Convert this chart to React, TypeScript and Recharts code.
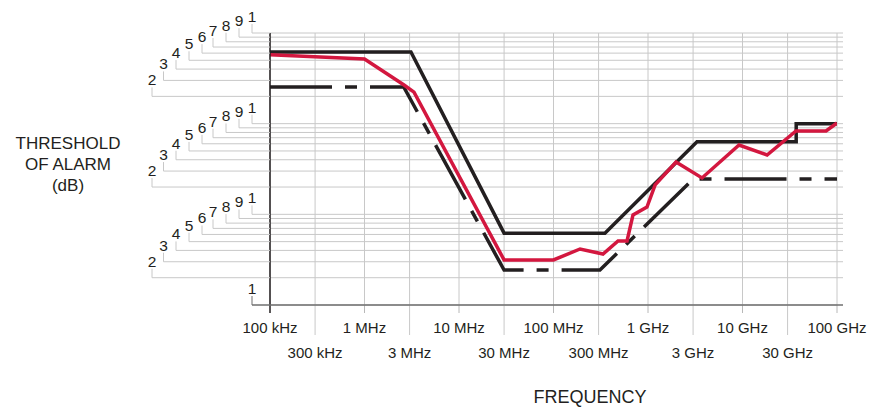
import React from 'react';
import { LineChart, Line, XAxis, YAxis, CartesianGrid } from 'recharts';

// ---------- data ----------
const X_TICKS = [1e5, 3e5, 1e6, 3e6, 1e7, 3e7, 1e8, 3e8, 1e9, 3e9, 1e10, 3e10, 1e11];
const X_TICK_LABELS = ['100 kHz', '300 kHz', '1 MHz', '3 MHz', '10 MHz', '30 MHz', '100 MHz', '300 MHz', '1 GHz', '3 GHz', '10 GHz', '30 GHz', '100 GHz'];

const Y_TICKS = [1, 2, 3, 4, 5, 6, 7, 8, 9, 10, 20, 30, 40, 50, 60, 70, 80, 90, 100, 200, 300, 400, 500, 600, 700, 800, 900, 1000];
const Y_TICK_LABELS = ['1', '2', '3', '4', '5', '6', '7', '8', '9', '1', '2', '3', '4', '5', '6', '7', '8', '9', '1', '2', '3', '4', '5', '6', '7', '8', '9', '1'];

// upper limit (solid black)
const upperFreq = [1e5, 3.1e6, 3e7, 3.5e8, 3.3e9, 3.7e10, 3.7e10, 1e11];
const upperLevel = [617, 617, 6.2, 6.2, 63, 63, 100, 100];

// lower limit (dashed black)
const lowerFreq = [1e5, 2.6e6, 3e7, 3.1e8, 3e9, 1e11];
const lowerLevel = [254, 254, 2.43, 2.43, 24.5, 24.5];

// measured (red)
const measFreq = [1e5, 1e6, 2.62e6, 3.34e6, 3e7, 1e8, 1.91e8, 3.34e8, 4.82e8, 6e8, 6.94e8, 9.75e8, 1.19e9, 1.98e9, 3.73e9, 9.19e9, 1.82e10, 3.68e10, 7.66e10, 1e11];
const measLevel = [575, 517, 267, 223, 3.14, 3.14, 4.15, 3.65, 5.08, 5.08, 9.84, 12.05, 21.1, 37.8, 25.2, 58.2, 45.1, 83, 83, 101.7];

const zip = (fs: number[], vs: number[]) => fs.map((f, i) => ({ f, v: vs[i] }));
const upperData = zip(upperFreq, upperLevel);
const lowerData = zip(lowerFreq, lowerLevel);
const measData = zip(measFreq, measLevel);

// ---------- styling ----------
const FONT = '"Liberation Sans", Arial, Helvetica, sans-serif';
const TEXT = '#231f20';
const GRID = '#c8c8c8';
const BLACK = '#231f20';
const RED = '#d3173f';
const PLOT_W = 567;
const LEADER_X: Record<string, number> = { '2': 152, '3': 163.5, '4': 176, '5': 189, '6': 202, '7': 213, '8': 226, '9': 239, '1': 252 };

const YTick = (props: any) => {
  const { x, y, payload, index } = props;
  const label = Y_TICK_LABELS[index] ?? '';
  const lx = LEADER_X[label] ?? 252;
  const isBase = payload.value === 1;
  return (
    <g>
      <line x1={lx} y1={y} x2={x} y2={y} stroke={isBase ? '#6f6f6f' : GRID} strokeWidth={isBase ? 1.5 : 1} />
      {isBase ? (
        <line x1={x} y1={y} x2={x + PLOT_W + 6} y2={y} stroke="#6f6f6f" strokeWidth={1.5} />
      ) : (
        <line x1={x + PLOT_W} y1={y} x2={x + PLOT_W + 6} y2={y} stroke={GRID} strokeWidth={1} />
      )}
      <line x1={lx} y1={y} x2={lx} y2={y - 9} stroke={isBase ? '#6f6f6f' : GRID} strokeWidth={1} />
      <text x={lx} y={y - 11} textAnchor="middle" fontSize={15.5} fontFamily={FONT} fill={TEXT}>
        {label}
      </text>
    </g>
  );
};

const XTick = (props: any) => {
  const { x, y, payload, index } = props;
  const e = Math.log10(payload.value);
  const isDecade = Math.abs(e - Math.round(e)) < 1e-6;
  const label = X_TICK_LABELS[index] ?? '';
  return (
    <g>
      {isDecade ? (
        <line x1={x} y1={y} x2={x} y2={y + 8} stroke={index === 0 ? BLACK : '#b8b8b8'} strokeWidth={index === 0 ? 1.5 : 1} />
      ) : (
        <line x1={x} y1={y} x2={x} y2={y + 30} stroke={GRID} strokeWidth={1} />
      )}
      <text x={x} y={isDecade ? y + 28 : y + 53} textAnchor="middle" fontSize={15} fontFamily={FONT} fill={TEXT}>
        {label}
      </text>
    </g>
  );
};

export default function App() {
  return (
    <div style={{ position: 'absolute', left: 0, top: 0, width: 869, height: 407, background: '#fff' }}>
      <LineChart
        width={869}
        height={407}
        margin={{ top: 33, right: 32, bottom: 72, left: 210 }}
        style={{ fontFamily: FONT }}
      >
        <CartesianGrid stroke={GRID} strokeWidth={1} horizontal={true} vertical={true} />
        <XAxis
          dataKey="f"
          type="number"
          scale="log"
          domain={[1e5, 1e11]}
          ticks={X_TICKS}
          interval={0}
          allowDataOverflow
          axisLine={false}
          tickLine={false}
          tickSize={0}
          tickMargin={0}
          height={30}
          tick={<XTick />}
        />
        <YAxis
          dataKey="v"
          type="number"
          scale="log"
          domain={[1, 1000]}
          ticks={Y_TICKS}
          interval={0}
          allowDataOverflow
          axisLine={{ stroke: BLACK, strokeWidth: 1.5 }}
          tickLine={false}
          tickSize={0}
          tickMargin={0}
          width={60}
          tick={<YTick />}
        />
        <Line data={upperData} dataKey="v" type="linear" stroke={BLACK} strokeWidth={3.5} dot={false} activeDot={false} isAnimationActive={false} />
        <Line data={lowerData} dataKey="v" type="linear" stroke={BLACK} strokeWidth={3.5} strokeDasharray="62 13 12 13" dot={false} activeDot={false} isAnimationActive={false} />
        <Line data={measData} dataKey="v" type="linear" stroke={RED} strokeWidth={3.5} dot={false} activeDot={false} isAnimationActive={false} />
      </LineChart>
      <svg width={869} height={407} style={{ position: 'absolute', left: 0, top: 0, pointerEvents: 'none' }}>
        <g fontFamily={FONT} fill={TEXT} textAnchor="middle">
          <text x={68} y={149} fontSize={17}>THRESHOLD</text>
          <text x={68} y={170} fontSize={17}>OF ALARM</text>
          <text x={68} y={191} fontSize={17}>(dB)</text>
          <text x={590} y={403} fontSize={18}>FREQUENCY</text>
        </g>
      </svg>
    </div>
  );
}
